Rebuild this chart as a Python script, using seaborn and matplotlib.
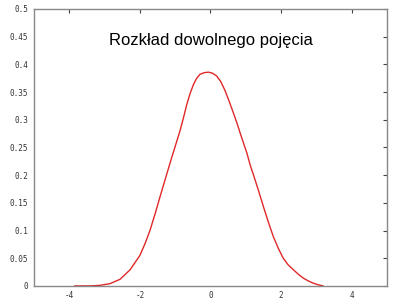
import matplotlib
matplotlib.use("Agg")
import matplotlib.pyplot as plt
import seaborn as sns
import pandas as pd

x_vals = [-3.85, -3.4, -3.13, -2.85, -2.56, -2.28, -2.0, -1.85, -1.71, -1.57, -1.43, -1.29,
          -1.15, -1.0, -0.86, -0.76, -0.675, -0.58, -0.487, -0.40, -0.30, -0.18, -0.06,
          0.06, 0.175, 0.29, 0.41, 0.53, 0.65, 0.75, 0.84, 0.94, 1.03, 1.13, 1.24, 1.36, 1.50,
          1.64, 1.78, 1.92, 2.06, 2.2, 2.35, 2.49, 2.63, 2.77, 2.91, 3.05, 3.19]
y_vals = [0.0, 0.0, 0.001, 0.004, 0.012, 0.029, 0.055, 0.077, 0.101, 0.13, 0.161, 0.191,
          0.221, 0.252, 0.281, 0.305, 0.327, 0.347, 0.363, 0.374, 0.382, 0.385, 0.386,
          0.384, 0.379, 0.369, 0.353, 0.333, 0.312, 0.294, 0.276, 0.257, 0.240, 0.217, 0.196, 0.172, 0.143,
          0.115, 0.089, 0.068, 0.050, 0.038, 0.029, 0.021, 0.014, 0.009, 0.005, 0.002, 0.0]
title = "Rozkład dowolnego pojęcia"
x_ticks = [-4, -2, 0, 2, 4]
y_ticks = [0, 0.05, 0.1, 0.15, 0.2, 0.25, 0.3, 0.35, 0.4, 0.45, 0.5]
y_labels = ["0", "0.05", "0.1", "0.15", "0.2", "0.25", "0.3", "0.35", "0.4", "0.45", "0.5"]

sns.set_style("white")
df = pd.DataFrame({"x": x_vals, "y": y_vals})

fig = plt.figure(figsize=(4, 3), dpi=100)
ax = fig.add_axes([0.085, 0.047, 0.8825, 0.923])
sns.lineplot(data=df, x="x", y="y", ax=ax, color="#e02828", linewidth=1.0, sort=False)

ax.set_xlim(-5, 5)
ax.set_ylim(0, 0.5)
ax.set_xticks(x_ticks)
ax.set_xticklabels([str(t) for t in x_ticks])
ax.set_yticks(y_ticks)
ax.set_yticklabels(y_labels)
ax.set_xlabel("")
ax.set_ylabel("")
for s in ax.spines.values():
    s.set_color("#888888")
    s.set_linewidth(1.0)
ax.tick_params(direction="in", length=3, width=0.8, color="#444444",
               top=True, right=True, labelsize=5.5, labelcolor="#333333", pad=4)
for lab in ax.get_xticklabels() + ax.get_yticklabels():
    lab.set_family("DejaVu Sans Mono")

ax.text(0, 0.443, title, ha="center", va="center", fontsize=12,
        family="Liberation Sans", color="black")

fig.savefig("out.png", dpi=100)
